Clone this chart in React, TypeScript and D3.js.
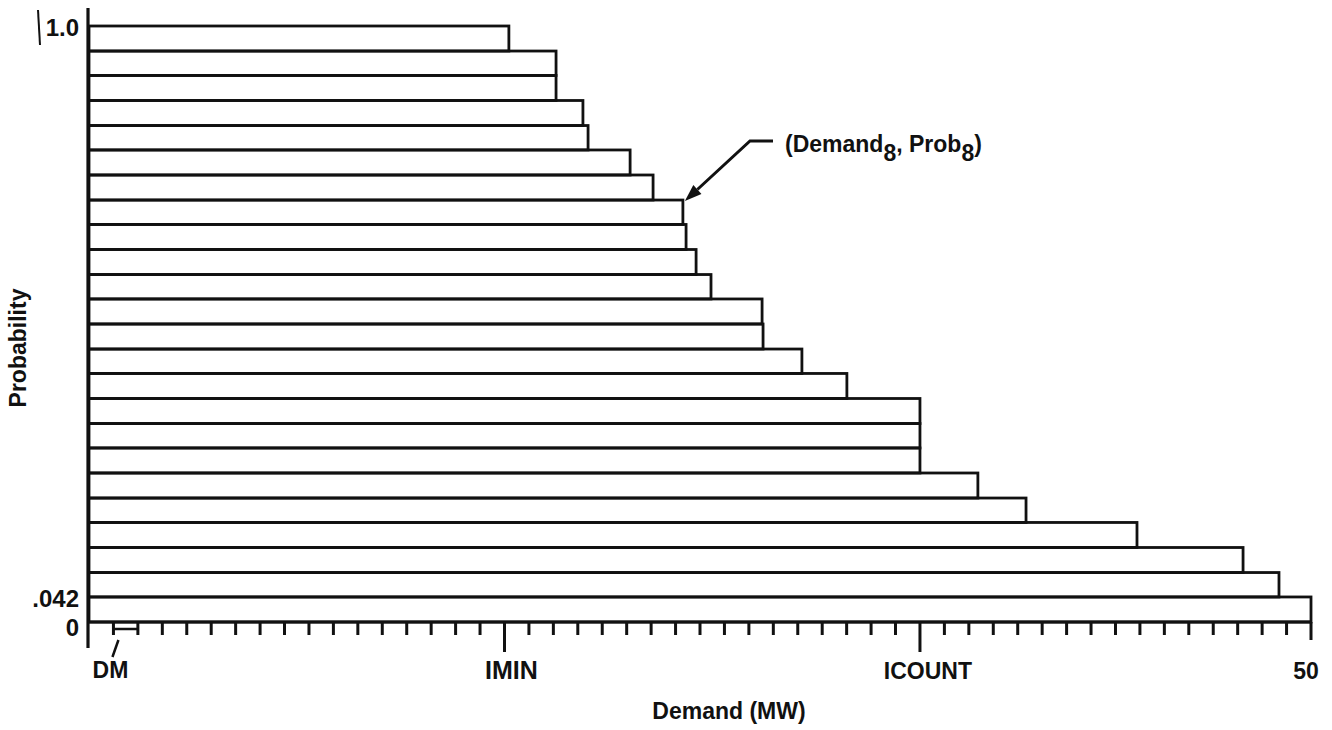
import * as d3 from 'd3';
import React from 'react';

// probability at the top of each step (1/24 increments), and the demand where each step ends (MW)
const probTop = [1.0, 0.958, 0.917, 0.875, 0.833, 0.792, 0.75, 0.708, 0.667, 0.625, 0.583, 0.542,
  0.5, 0.458, 0.417, 0.375, 0.333, 0.292, 0.25, 0.208, 0.167, 0.125, 0.083, 0.042];
const demand = [17.18, 19.11, 19.11, 20.21, 20.42, 22.14, 23.08, 24.3, 24.43, 24.84, 25.45, 27.54,
  27.58, 29.17, 31.01, 34, 34, 34, 36.37, 38.34, 42.88, 47.22, 48.69, 50];

const yTickValues = [1, 0.042, 0];
const yTickLabels = ['1.0', '.042', '0'];
const xNamedTicks = [17, 34, 50];
const xNamedLabels = ['IMIN', 'ICOUNT', '50'];
const markedStep = 7; // (Demand8, Prob8)

const font = '"Liberation Sans", Arial, sans-serif';

const App = () => {
  const width = 1332;
  const height = 730;

  const x = d3.scaleLinear([0, 50], [89, 1311]);
  const y = d3.scaleLinear([0, 1], [622, 26]);
  const minor = d3.range(1, 50).filter((v) => !xNamedTicks.includes(v));

  // arrow to the corner of step 8
  const tipX = x(demand[markedStep]) + 2;
  const tipY = y(probTop[markedStep]) + 1;
  const elbow = [750, 141];
  const ang = Math.atan2(tipY - elbow[1], tipX - elbow[0]);
  const ah = 17, aw = 6;
  const bx = tipX - ah * Math.cos(ang), by = tipY - ah * Math.sin(ang);
  const head = [
    [tipX, tipY],
    [bx + aw * Math.sin(ang), by - aw * Math.cos(ang)],
    [bx - aw * Math.sin(ang), by + aw * Math.cos(ang)],
  ];

  return (
    <svg width={width} height={height} style={{ position: 'absolute', left: 0, top: 0, background: '#fff' }}
      fontFamily={font} fontWeight="bold">
      {/* steps */}
      <g fill="none" stroke="#111" strokeWidth="2.8">
        {probTop.map((p, i) => {
          const bottom = i + 1 < probTop.length ? probTop[i + 1] : 0;
          return (
            <rect key={i} x={x(0)} y={y(p)} width={x(demand[i]) - x(0)} height={y(bottom) - y(p)} />
          );
        })}
      </g>

      {/* axes */}
      <line x1={x(0) - 1} x2={x(0) - 1} y1={8} y2={648} stroke="#111" strokeWidth="3.2" />
      <line x1={x(0)} x2={x(50)} y1={y(0)} y2={y(0)} stroke="#111" strokeWidth="3.2" />
      <g stroke="#111" strokeWidth="3">
        {minor.map((v) => (
          <line key={v} x1={x(v)} x2={x(v)} y1={y(0)} y2={y(0) + 13} />
        ))}
        {xNamedTicks.map((v) => (
          <line key={v} x1={x(v)} x2={x(v)} y1={y(0)} y2={y(0) + (v === 50 ? 18 : 30)} />
        ))}
      </g>
      <line x1={38} x2={40} y1={10} y2={45} stroke="#111" strokeWidth="2" />

      {/* DM bracket */}
      <line x1={x(1)} x2={x(2)} y1={y(0) + 7} y2={y(0) + 7} stroke="#111" strokeWidth="2.5" />
      <line x1={x(1) + 5} x2={x(1) - 1} y1={y(0) + 18} y2={y(0) + 35} stroke="#111" strokeWidth="2.5" />
      <text x={x(1) - 3} y={678} fontSize="23" textAnchor="middle" fill="#111">DM</text>

      {/* tick labels */}
      <g fontSize="24" fill="#111" textAnchor="end">
        {yTickValues.map((v, i) => (
          <text key={v} x={79} y={y(v) + (v === 0 ? 14 : 10)}>{yTickLabels[i]}</text>
        ))}
      </g>
      <g fontSize="23" fill="#111" textAnchor="middle">
        {xNamedTicks.map((v, i) => (
          <text key={v} x={x(v) + (v === 34 ? 8 : v === 50 ? -5 : 7)} y={679}
            fontSize={v === 17 ? 25 : 23}>{xNamedLabels[i]}</text>
        ))}
      </g>

      {/* axis titles */}
      <text x={729} y={719} fontSize="23" textAnchor="middle" fill="#111">Demand (MW)</text>
      <text transform="translate(26,348) rotate(-90)" fontSize="23" textAnchor="middle" fill="#111">Probability</text>

      {/* annotation */}
      <polyline points={`773,${elbow[1]} ${elbow[0]},${elbow[1]} ${bx},${by}`} fill="none" stroke="#111" strokeWidth="3" />
      <polygon points={head.map((d) => d.join(',')).join(' ')} fill="#111" />
      <text x={785} y={152} fontSize="23" fill="#111">
        (Demand<tspan dy="9">8</tspan><tspan dy="-9">, Prob</tspan><tspan dy="9">8</tspan><tspan dy="-9">)</tspan>
      </text>
    </svg>
  );
};

export default App;
